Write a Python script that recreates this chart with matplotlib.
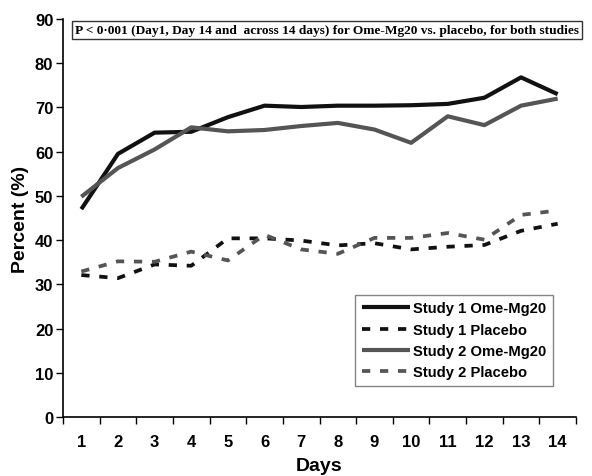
import matplotlib
matplotlib.use("Agg")
import matplotlib.pyplot as plt

days = list(range(1, 15))
day_labels = [str(d) for d in days]

study1_omg = [47.0, 59.5, 64.3, 64.5, 67.8, 70.4, 70.1, 70.4, 70.4, 70.5, 70.8, 72.2, 76.8, 73.0]
study1_plc = [32.1, 31.4, 34.5, 34.2, 40.4, 40.4, 39.9, 38.8, 39.3, 37.9, 38.5, 38.9, 42.1, 43.7]
study2_omg = [49.8, 56.3, 60.5, 65.5, 64.6, 64.9, 65.8, 66.5, 65.0, 62.0, 68.0, 66.0, 70.4, 72.0]
study2_plc = [32.9, 35.2, 35.1, 37.4, 35.4, 41.2, 37.9, 36.9, 40.5, 40.5, 41.6, 40.1, 45.7, 46.7]

note = "P < 0\u00b7001 (Day1, Day 14 and  across 14 days) for Ome-Mg20 vs. placebo, for both studies"

plt.rcParams['font.family'] = ['Liberation Sans', 'DejaVu Sans']

fig = plt.figure(figsize=(5.92, 4.77), dpi=100)
ax = fig.add_axes([63 / 592, 59 / 477, 513 / 592, 398 / 477])

black = "#111111"
gray = "#555555"
dash = (0, (2.2, 2.6))

ax.plot(days, study1_omg, color=black, lw=3, label="Study 1 Ome-Mg20", solid_capstyle='butt')
ax.plot(days, study1_plc, color=black, lw=2.7, ls=dash, label="Study 1 Placebo")
ax.plot(days, study2_omg, color=gray, lw=3, label="Study 2 Ome-Mg20", solid_capstyle='butt')
ax.plot(days, study2_plc, color=gray, lw=2.7, ls=dash, label="Study 2 Placebo")

ax.set_xlim(0.5, 14.5)
ax.set_ylim(0, 90)
ax.set_yticks(range(0, 91, 10))
ax.set_xticks(days)
ax.set_xticklabels(day_labels)
ax.set_xticks([d + 0.5 for d in range(0, 15)], minor=True)
ax.tick_params(axis='x', which='major', length=0, pad=12)
ax.tick_params(axis='x', which='minor', length=5, width=1, direction='out')
ax.tick_params(axis='y', length=5, width=1, direction='out', pad=2)
for lbl in ax.get_xticklabels() + ax.get_yticklabels():
    lbl.set_fontsize(12)
    lbl.set_fontweight('bold')

for s in ['top', 'right']:
    ax.spines[s].set_visible(False)
for s in ['left', 'bottom']:
    ax.spines[s].set_linewidth(1.2)

ax.set_ylabel("Percent (%)", fontsize=14, fontweight='bold', labelpad=4)
ax.set_xlabel("Days", fontsize=14, fontweight='bold', labelpad=6)

leg = ax.legend(loc='lower right', prop={'weight': 'bold', 'size': 10.6},
                frameon=True, fancybox=False, edgecolor='#666666', handlelength=3.3,
                handletextpad=0.2, borderpad=0.45, labelspacing=0.5, borderaxespad=0)
leg.get_frame().set_linewidth(1)
leg.set_bbox_to_anchor((553 / 592, (477 - 387) / 477), transform=fig.transFigure)

fig.text(75 / 592, (477 - 31) / 477, note, family=['Liberation Serif', 'DejaVu Serif'],
         fontsize=9.6, fontweight='bold', va='center', ha='left',
         bbox=dict(boxstyle='square,pad=0.2', fc='white', ec='#333333', lw=1))

fig.savefig("out.png", dpi=100)
